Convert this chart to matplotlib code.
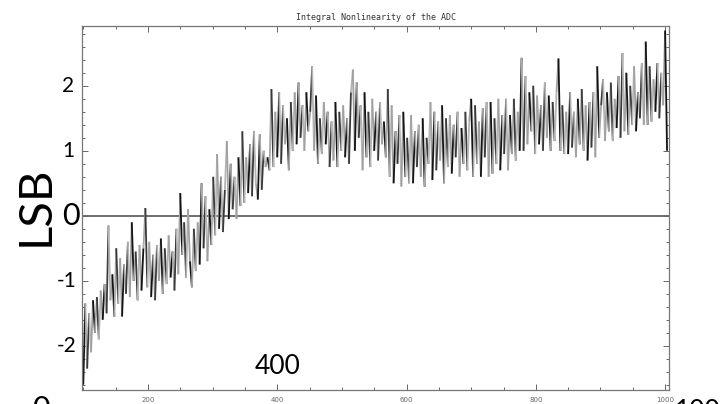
import numpy as np
import matplotlib
matplotlib.use("Agg")
import matplotlib.pyplot as plt
from matplotlib.collections import LineCollection
from matplotlib.ticker import MultipleLocator, FixedLocator

# ADC output code (every 3rd code) and integral nonlinearity in LSB
codes = list(range(100, 1004, 3))
inl_lsb = [
    -2.6, -1.35, -2.35, -1.5, -2.1, -1.3, -1.8, -1.25, -1.9, -1.15,
    -1.6, -1.05, -1.5, -0.15, -1.3, -0.9, -1.55, -0.5, -1.35, -0.65,
    -1.55, -0.75, -1.2, -0.4, -1.25, -0.1, -1.0, -0.55, -1.3, -0.45,
    -1.15, -0.5, 0.12, -1.1, -0.4, -1.25, -0.6, -1.3, -0.45, -1.0,
    -0.35, -1.2, -0.5, -1.05, -0.3, -0.95, -0.55, -1.15, -0.2, -0.9,
    0.35, -0.6, -0.1, -0.95, 0.1, -0.7, -1.1, -0.2, -0.85, -0.1,
    -0.75, 0.5, -0.5, 0.3, -0.7, 0.1, -0.45, 0.6, -0.3, 0.95,
    -0.2, 0.6, -0.25, 0.4, 1.15, -0.05, 0.8, 0.1, 0.6, -0.05,
    0.9, 0.15, 1.3, 0.2, 0.9, 0.35, 1.1, 0.3, 1.3, 0.5,
    0.25, 1.25, 0.4, 1.0, 0.75, 0.9, 0.7, 1.95, 0.75, 1.6,
    0.9, 1.9, 0.8, 1.7, 1.1, 1.5, 0.7, 1.75, 1.0, 1.9,
    1.1, 2.05, 1.2, 1.7, 1.0, 1.9, 1.3, 1.6, 2.3, 1.0,
    1.85, 0.8, 1.5, 0.95, 1.75, 1.1, 1.6, 0.75, 1.45, 0.85,
    1.75, 0.75, 1.6, 1.0, 1.7, 0.9, 1.5, 0.8, 1.9, 2.25,
    1.0, 2.05, 1.2, 1.7, 0.7, 1.9, 0.9, 1.6, 0.75, 1.8,
    1.0, 1.6, 0.85, 1.75, 1.1, 1.45, 0.9, 1.95, 0.6, 1.7,
    0.5, 1.3, 0.8, 1.55, 0.45, 1.6, 0.6, 1.2, 0.5, 1.55,
    0.5, 1.3, 0.75, 1.4, 0.6, 1.5, 0.45, 1.2, 0.8, 1.75,
    0.55, 1.6, 0.7, 1.45, 0.85, 1.7, 0.5, 1.5, 0.75, 1.55,
    0.65, 1.4, 0.9, 1.6, 0.6, 1.35, 0.8, 1.6, 0.7, 1.45,
    1.8, 0.6, 1.7, 0.8, 1.45, 0.6, 1.65, 0.9, 1.75, 0.6,
    1.75, 0.65, 1.5, 0.8, 1.8, 0.7, 1.55, 0.95, 1.8, 0.7,
    1.55, 0.95, 1.8, 0.85, 1.6, 1.0, 2.43, 1.0, 2.15, 1.1,
    1.9, 1.3, 2.0, 0.95, 1.85, 1.1, 1.7, 1.0, 2.05, 1.2,
    1.85, 1.0, 1.75, 1.15, 1.9, 2.42, 1.0, 1.7, 0.95, 1.6,
    0.95, 1.9, 1.05, 1.6, 0.9, 1.8, 1.1, 1.95, 1.0, 1.7,
    0.85, 1.75, 1.05, 1.9, 0.9, 2.3, 1.2, 1.7, 2.1, 1.15,
    1.9, 1.3, 2.05, 1.15, 1.8, 1.35, 2.15, 1.2, 2.5, 1.3,
    2.2, 1.25, 2.0, 1.4, 2.3, 1.3, 1.9, 1.5, 2.35, 1.4,
    2.68, 1.4, 2.3, 1.45, 2.1, 1.6, 2.35, 1.5, 2.2, 1.7,
    2.85, 1.0,
]

x_tick_values = [200, 400, 600, 800, 1000]
y_label_values = [2, 1, 0, -1, -2]
title_text = "Integral Nonlinearity of the ADC"

big_font = ["Lato", "DejaVu Sans"]

fig = plt.figure(figsize=(7.21, 4.04), dpi=100)
ax = fig.add_axes([82 / 721, 14 / 404, 587 / 721, 364 / 404])

# INL trace drawn as segments cycling through dark and light greys
pts = np.column_stack([codes, inl_lsb])
segs = np.stack([pts[:-1], pts[1:]], axis=1)
tones = ["#141414", "#a8a8a8", "#3a3a3a", "#b5b5b5", "#a0a0a0"]
seg_colors = [tones[i % len(tones)] for i in range(len(segs))]
lc = LineCollection(segs, colors=seg_colors, linewidths=1.3, capstyle="butt")
ax.add_collection(lc)

ax.axhline(0, color="#555555", lw=1.2, zorder=1)

ax.set_xlim(98, 1006)
ax.set_ylim(-2.68, 2.92)

ax.xaxis.set_major_locator(FixedLocator(x_tick_values))
ax.xaxis.set_minor_locator(MultipleLocator(50))
ax.yaxis.set_major_locator(MultipleLocator(1))
ax.yaxis.set_minor_locator(MultipleLocator(0.2))
ax.tick_params(which="both", direction="in", top=True, right=True,
               color="#666666", width=0.7)
ax.tick_params(which="major", length=4)
ax.tick_params(which="minor", length=2.5)
ax.tick_params(axis="x", labelsize=5, labelcolor="#666666", pad=5)
ax.tick_params(axis="y", labelleft=False)
for s in ax.spines.values():
    s.set_color("#777777")
    s.set_linewidth(0.9)

fig.text(376 / 721, 1 - 17 / 404, title_text, ha="center", va="center",
         fontsize=6, family="DejaVu Sans Mono", color="#333333")

# large axis annotations
label_right_px = {2: 74, 1: 74, 0: 80, -1: 77, -2: 77}
for v in y_label_values:
    size = 22 if v == 0 else 15
    xr = (label_right_px[v] - 82) / 587
    ax.text(xr, v, str(v), transform=ax.get_yaxis_transform(),
            ha="right", va="center", fontsize=size, family=big_font, color="black")

fig.text(36 / 721, 1 - 206 / 404, "LSB", rotation=90, ha="center", va="center",
         fontsize=34, family=big_font, color="black")
ax.text(400, -2.68 + (390 - 366) / 65, "400", ha="center", va="center",
        fontsize=19, family=big_font, color="black")
fig.text(41 / 721, 1 - 395 / 404, "0", ha="center", va="top",
         fontsize=22, family=big_font, color="black")
fig.text(675 / 721, 1 - 399 / 404, "1000", ha="left", va="top",
         fontsize=19, family=big_font, color="black")

fig.savefig("out.png", dpi=100)
